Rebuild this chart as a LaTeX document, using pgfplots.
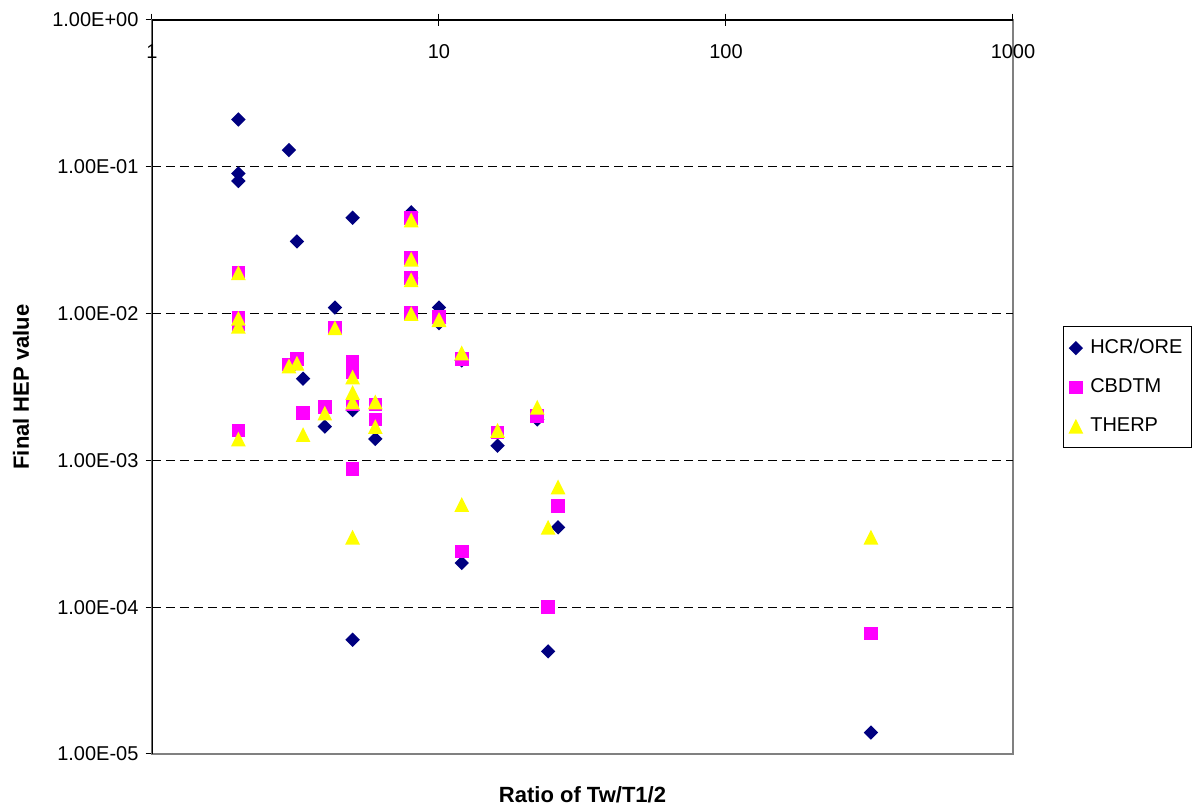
\documentclass[border=0pt]{standalone}
\usepackage{pgfplots}
\pgfplotsset{compat=1.18}
\usepackage{fontspec}
\setmainfont{Liberation Sans}
\definecolor{hcr}{RGB}{0,0,128}
\definecolor{cbd}{RGB}{255,0,255}
\definecolor{thp}{RGB}{255,255,0}
\pgfdeclareplotmark{xldiamond}{%
  \pgfpathmoveto{\pgfqpoint{0pt}{3.6pt}}\pgfpathlineto{\pgfqpoint{3.6pt}{0pt}}%
  \pgfpathlineto{\pgfqpoint{0pt}{-3.6pt}}\pgfpathlineto{\pgfqpoint{-3.6pt}{0pt}}%
  \pgfpathclose\pgfusepathqfill}
\pgfdeclareplotmark{xlsquare}{%
  \pgfpathrectangle{\pgfqpoint{-3.4pt}{-3.4pt}}{\pgfqpoint{6.8pt}{6.8pt}}\pgfusepathqfill}
\pgfdeclareplotmark{xltri}{%
  \pgfpathmoveto{\pgfqpoint{0pt}{3.7pt}}\pgfpathlineto{\pgfqpoint{3.7pt}{-3.7pt}}%
  \pgfpathlineto{\pgfqpoint{-3.7pt}{-3.7pt}}\pgfpathclose\pgfusepathqfill}
\begin{document}
\begin{tikzpicture}
\useasboundingbox (0,0) rectangle (598pt,403.5pt);
\begin{axis}[
  at={(76pt,26.5pt)}, anchor=south west,
  scale only axis, width=430.5pt, height=367pt,
  xmode=log, ymode=log,
  xmin=1, xmax=1000, ymin=1e-5, ymax=1,
  xtick={1,10,100,1000}, xticklabels={1,10,100,1000},
  ytick={1e-5,1e-4,1e-3,1e-2,1e-1,1},
  yticklabels={1.00E-05,1.00E-04,1.00E-03,1.00E-02,1.00E-01,1.00E+00},
  xminorticks=false, yminorticks=false,
  xtick pos=right, ytick pos=left,
  xticklabel pos=right,
  xticklabel style={anchor=north, yshift=-12pt, font=\fontsize{10}{12}\selectfont},
  yticklabel style={font=\fontsize{10}{12}\selectfont},
  tick align=center, major tick length=6.5pt,
  tick style={black, line width=0.5pt},
  axis line style={draw=gray, line width=0.8pt},
  extra y ticks={1e-4,1e-3,1e-2,1e-1},
  extra y tick labels={},
  extra y tick style={grid=major, major tick length=0pt},
  grid style={black, line width=0.5pt, dash pattern=on 4.5pt off 2.5pt},
  xlabel={Ratio of Tw/T1/2},
  ylabel={Final HEP value},
  xlabel style={at={(axis description cs:0.5,0)}, anchor=center, yshift=-20.5pt, font=\bfseries\fontsize{11}{13}\selectfont},
  ylabel style={at={(axis description cs:0,0.5)}, anchor=center, yshift=65.5pt, font=\bfseries\fontsize{11}{13}\selectfont},
  legend style={at={(1,0.5)}, anchor=west, xshift=25pt, draw=black, line width=0.5pt,
    font=\fontsize{10}{12}\selectfont, row sep=7pt, inner xsep=2.5pt, inner ysep=4.5pt,
    /tikz/every odd column/.append style={column sep=1.5pt}},
  legend cell align=left,
]
\addplot[only marks, mark=xldiamond, color=hcr] coordinates {
(2,0.21) (2,0.09) (2,0.08) (3,0.13) (3.2,0.031) (3.36,0.0036) (4,0.0017)
(4.34,0.011) (5,0.045) (5,0.0022) (5,6e-5) (6,0.0014) (8,0.049) (8,0.0175)
(8,0.01) (10,0.011) (10,0.0086) (12,0.0048) (12,0.0002) (16,0.00126)
(22,0.0019) (24,5e-5) (26,0.00035) (320,1.4e-5)
};
\addlegendentry{HCR/ORE}
\addplot[only marks, mark=xlsquare, color=cbd] coordinates {
(2,0.019) (2,0.0093) (2,0.0085) (2,0.0016) (3,0.0045) (3.2,0.0049) (3.36,0.0021)
(4,0.0023) (4.34,0.008) (5,0.0047) (5,0.004) (5,0.0024) (5,0.00087) (6,0.0024)
(6,0.0019) (8,0.045) (8,0.024) (8,0.0175) (8,0.0101) (10,0.0095) (12,0.0049)
(12,0.00024) (16,0.00155) (22,0.002) (24,0.0001) (26,0.00049) (320,6.6e-5)
};
\addlegendentry{CBDTM}
\addplot[only marks, mark=xltri, color=thp] coordinates {
(2,0.019) (2,0.0093) (2,0.0082) (2,0.0014) (3,0.0044) (3.2,0.0046) (3.36,0.0015)
(4,0.0021) (4.34,0.008) (5,0.0037) (5,0.0029) (5,0.0025) (5,0.0003) (6,0.0025)
(6,0.0017) (8,0.0435) (8,0.0235) (8,0.017) (8,0.01) (10,0.0091) (12,0.0054)
(12,0.0005) (16,0.0016) (22,0.0023) (24,0.00035) (26,0.00066) (320,0.0003)
};
\addlegendentry{THERP}
\draw[black, line width=0.6pt] (rel axis cs:0,0) -- (rel axis cs:0,1) -- (rel axis cs:1,1);
\end{axis}
\end{tikzpicture}
\end{document}
